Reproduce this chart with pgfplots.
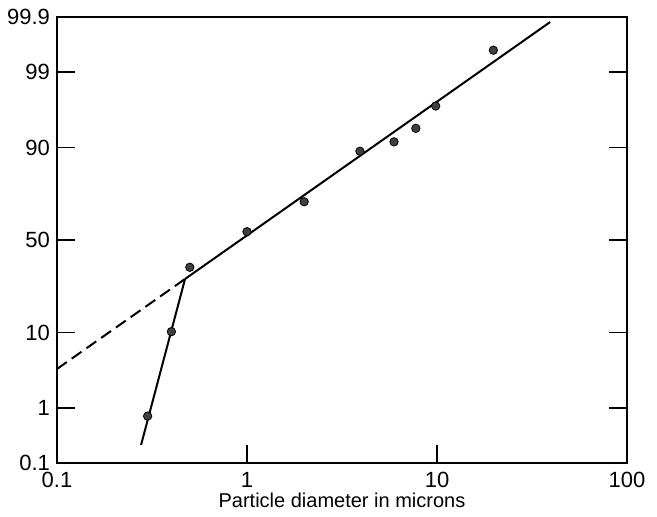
\documentclass[border=0pt]{standalone}
\usepackage{fontspec}
\setmainfont{Liberation Sans}
\usepackage{pgfplots}
\pgfplotsset{compat=1.18}
\begin{document}
\begin{tikzpicture}
\useasboundingbox (-28.5pt,-26.5pt) rectangle (300pt,231.5pt);
\begin{axis}[
  at={(0,0)}, anchor=south west,
  scale only axis, width=285pt, height=223pt,
  xmode=log, xmin=0.1, xmax=100,
  ymin=-3.0902, ymax=3.0902,
  xtick={0.1,1,10,100}, xticklabels={0.1,1,10,100},
  ytick={-3.0902,-2.3263,-1.2816,0,1.2816,2.3263,3.0902},
  yticklabels={0.1,1,10,50,90,99,99.9},
  xminorticks=false, yminorticks=false,
  xtick pos=bottom, ytick pos=both,
  tick align=inside, major tick length=9pt,
  tick style={line width=0.9pt, black},
  axis line style={line width=1pt},
  /pgf/number format/assume math mode=true,
  ticklabel style={font=\fontsize{11}{13}\selectfont},
  xticklabel style={yshift=-1pt},
  xlabel={Particle diameter in microns},
  xlabel style={font=\fontsize{10}{12}\selectfont, yshift=4pt},
  clip=false,
]
% fitted line (upper population)
\addplot[black, line width=1pt] coordinates {(0.472,-0.54) (39.4,3.02)};
% extrapolated dashed part
\addplot[black, line width=1pt, dash pattern=on 6pt off 3pt] coordinates {(0.1,-1.787) (0.472,-0.54)};
% steep line (lower population)
\addplot[black, line width=1pt] coordinates {(0.277,-2.84) (0.472,-0.54)};
% data points (y = normal quantile of cumulative percent)
\addplot[only marks, mark=*, mark size=2.1pt, mark options={fill=black!75, draw=black}] coordinates {
(0.30,-2.44) (0.40,-1.27) (0.50,-0.378) (1.0,0.115) (2.0,0.53)
(3.93,1.23) (5.94,1.36) (7.74,1.547) (9.84,1.856) (19.8,2.63)
};
\end{axis}
\end{tikzpicture}
\end{document}
